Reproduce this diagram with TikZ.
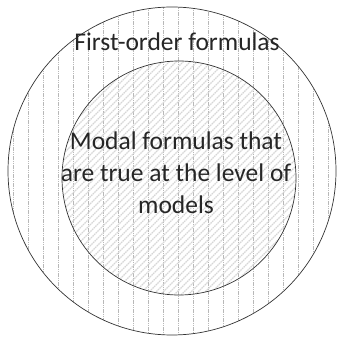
\documentclass[tikz,border=0pt]{standalone}
\usepackage{fontspec}
\setmainfont{Carlito}
\usetikzlibrary{positioning}

\begin{document}
\begin{tikzpicture}[
    x=1pt, y=1pt,
    vhatch/.style={black!28, line width=0.6pt, dash pattern=on 1.2pt off 0.6pt},
    dhatch/.style={black!16, line width=1.2pt, dash pattern=on 1.6pt off 0.7pt},
    outerset/.style={circle, draw=black!80, line width=0.7pt, minimum size=328pt, inner sep=0pt,
        path picture={
            \foreach \i in {0,...,22}
                \draw[vhatch] ([xshift=5pt+\i*15pt]path picture bounding box.south west)
                    -- ([xshift=5pt+\i*15pt]path picture bounding box.north west);
        }},
    innerset/.style={circle, draw=black!80, line width=0.7pt, minimum size=234pt, inner sep=0pt,
        path picture={
            \foreach \i in {-34,...,34}
                \draw[dhatch] ([xshift=\i*7pt]path picture bounding box.south west) -- ++(234pt,234pt);
        }},
    lbl/.style={font=\fontsize{25.5}{32}\selectfont, text=black!85, align=center}
]
\useasboundingbox (0,0) rectangle (337,338);
\node[outerset] (fo) at (172,167) {};
\node[innerset] (modal) at (179,160) {};
\node[lbl, anchor=base] (folbl) at (177,287) {First-order formulas};
\node[lbl] (modallbl) at (176,165) {Modal formulas that\\are true at the level of\\models};
\end{tikzpicture}
\end{document}
